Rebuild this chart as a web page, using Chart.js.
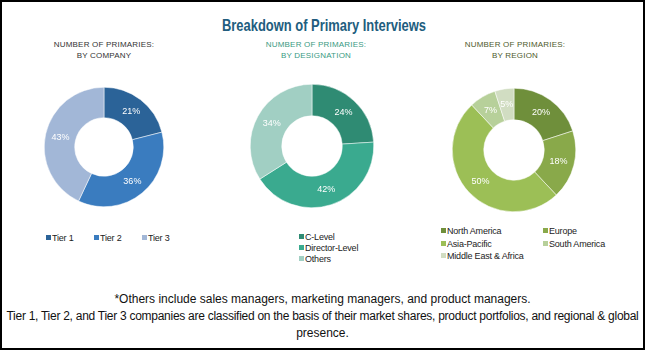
<!DOCTYPE html>
<html><head><meta charset="utf-8">
<script src="https://cdn.jsdelivr.net/npm/chart.js@4.4.0/dist/chart.umd.min.js"></script>
<style>
body{margin:0;width:645px;height:350px;position:relative;background:#fff;overflow:hidden;font-family:"Liberation Sans",Arial,sans-serif}
.abs{position:absolute;white-space:nowrap}
#frame{position:absolute;left:0;top:0;width:641px;height:346px;border:2px solid #000}
#title{top:16px;line-height:20px;font-weight:bold;font-size:17px;font-family:"Liberation Sans Narrow","Liberation Sans",sans-serif;color:#215d7e;transform-origin:0 50%}
.sub{font-size:8px;line-height:11px;text-align:center;width:200px;letter-spacing:0.2px}
.leg{font-size:9px;color:#222;line-height:11px;letter-spacing:-0.2px}
.sw{display:inline-block;width:5px;height:5px;margin-right:1px;vertical-align:1px}
.foot{left:0;width:645px;text-align:center;font-size:12px;color:#111;line-height:16px}
canvas{position:absolute}
</style></head>
<body>
<div id="frame"></div>
<div id="title" class="abs">Breakdown of Primary Interviews</div>
<div class="abs sub" style="left:4px;top:39px;color:#333">NUMBER OF PRIMARIES:<br>BY COMPANY</div>
<div class="abs sub" style="left:216px;top:39px;color:#3a9a82">NUMBER OF PRIMARIES:<br>BY DESIGNATION</div>
<div class="abs sub" style="left:415px;top:39px;color:#4e5a2c">NUMBER OF PRIMARIES:<br>BY REGION</div>

<canvas id="c1" width="120" height="120" style="left:44px;top:87px"></canvas>
<canvas id="c2" width="124" height="124" style="left:250px;top:84px"></canvas>
<canvas id="c3" width="124" height="124" style="left:452px;top:88px"></canvas>

<div id="leg1" class="abs leg" style="left:46px;top:233px"></div>
<div id="leg2" class="abs leg" style="left:299px;top:232px"></div>
<div id="leg3" class="abs leg" style="left:441px;top:226px"></div>

<div class="abs foot" style="top:291px">*Others include sales managers, marketing managers, and product managers.</div>
<div class="abs foot" style="top:308px;text-align:left;left:0;width:auto" id="foot2">Tier 1, Tier 2, and Tier 3 companies are classified on the basis of their market shares, product portfolios, and regional &amp; global</div>
<div class="abs foot" style="top:325px">presence.</div>

<script>
// ---- data ----
const companyLabels = ["Tier 1", "Tier 2", "Tier 3"];
const companyValues = [21, 36, 43];
const companyColors = ["#2b6398", "#3a7cbf", "#a2b7d7"];

const designationLabels = ["C-Level", "Director-Level", "Others"];
const designationValues = [24, 42, 34];
const designationColors = ["#2f8b73", "#3aaa8f", "#a1cfc3"];

const regionLabels = ["North America", "Europe", "Asia-Pacific", "South America", "Middle East & Africa"];
const regionValues = [20, 18, 50, 7, 5];
const regionColors = ["#6f8f3b", "#89a94a", "#9cbf56", "#b7d09a", "#d1ddc2"];

// ---- percentage labels plugin ----
const pctLabels = {
  id: 'pctLabels',
  afterDatasetsDraw(chart) {
    const ctx = chart.ctx;
    const meta = chart.getDatasetMeta(0);
    const vals = chart.data.datasets[0].data;
    ctx.save();
    ctx.fillStyle = '#ffffff';
    ctx.font = '9px "Liberation Sans", Arial, sans-serif';
    ctx.textAlign = 'center';
    ctx.textBaseline = 'middle';
    meta.data.forEach((arc, i) => {
      const p = arc.tooltipPosition(true);
      ctx.fillText(vals[i] + '%', p.x, p.y);
    });
    ctx.restore();
  }
};

function donut(id, labels, values, colors) {
  return new Chart(document.getElementById(id), {
    type: 'doughnut',
    data: { labels: labels, datasets: [{ data: values, backgroundColor: colors, borderColor: '#ffffff', borderWidth: 0.5, hoverOffset: 0 }] },
    options: {
      responsive: false, animation: false, cutout: '49%',
      layout: { padding: 0 },
      plugins: { legend: { display: false }, tooltip: { enabled: false } }
    },
    plugins: [pctLabels]
  });
}
donut('c1', companyLabels, companyValues, companyColors);
donut('c2', designationLabels, designationValues, designationColors);
donut('c3', regionLabels, regionValues, regionColors);

function legend(id, labels, colors, style) {
  const el = document.getElementById(id);
  labels.forEach((l, i) => {
    const d = document.createElement('div');
    d.style.cssText = style;
    d.innerHTML = '<span class="sw" style="background:' + colors[i] + '"></span>';
    d.appendChild(document.createTextNode(l));
    el.appendChild(d);
  });
}
legend('leg1', companyLabels, companyColors, 'display:inline-block;width:48px');
legend('leg2', designationLabels, designationColors, 'display:block');
document.getElementById('leg3').style.cssText += ';display:grid;grid-template-columns:102px 102px;grid-auto-rows:12.5px';
legend('leg3', regionLabels, regionColors, '');

// condense title to the reference width (narrow face)
const t = document.getElementById('title');
const tw = t.getBoundingClientRect().width;
const tTarget = 204;
t.style.left = ((645 - tTarget) / 2 + 1) + 'px';
t.style.transform = 'scaleX(' + (tTarget / tw) + ')';

// fit footnote line 2 to the reference width
const f2 = document.getElementById('foot2');
const target = 632;
const natural = f2.getBoundingClientRect().width;
const n = f2.textContent.length;
f2.style.letterSpacing = ((target - natural) / n) + 'px';
f2.style.left = ((645 - target) / 2) + 'px';
</script>
</body></html>
